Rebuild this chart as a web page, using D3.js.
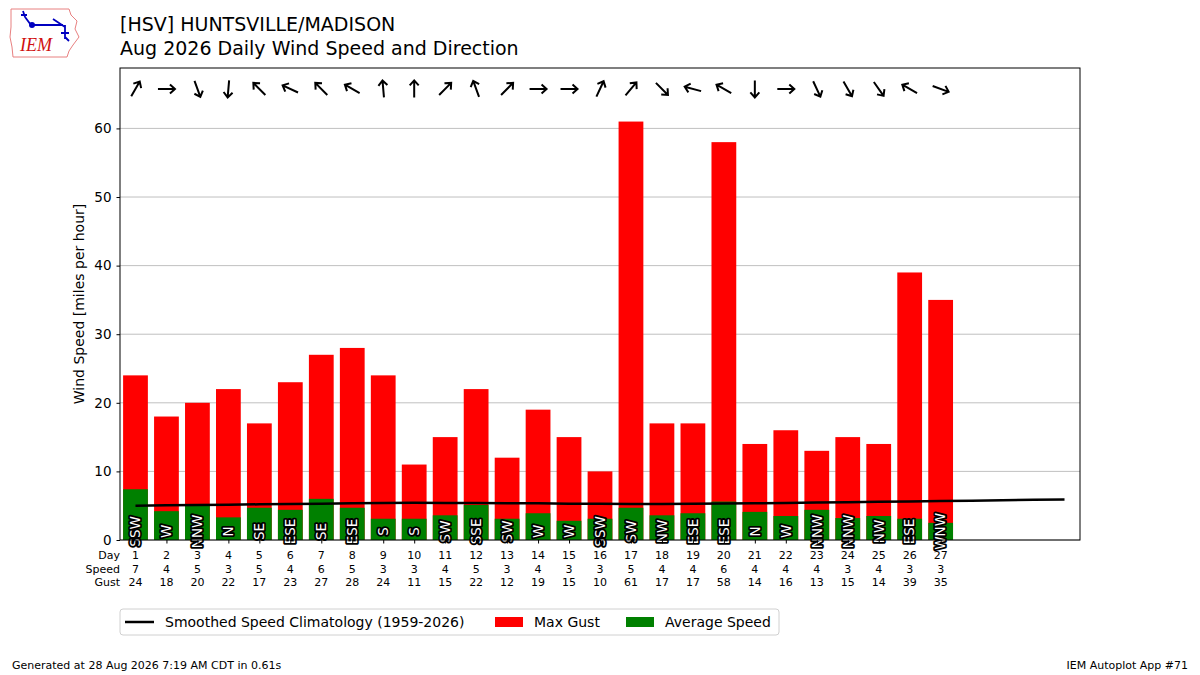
<!DOCTYPE html>
<html>
  <head>
    <meta charset="utf-8" />
    <title>HSV Daily Wind Speed and Direction</title>
    <style>
      body { margin: 0; background: #fff; }
      svg { display: block; font-family: "DejaVu Sans", sans-serif; }
      .grid line { stroke: #b0b0b0; stroke-width: 0.8; }
      .dirlabel { fill: #fff; stroke: #000; stroke-width: 3.6; stroke-linejoin: round; paint-order: stroke; font-size: 13.5px; }
    </style>
  </head>
  <body>
    <svg id="chart" width="1200" height="675"></svg>

    <script src="https://cdn.jsdelivr.net/npm/d3@7/dist/d3.min.js"></script>
    <script>
      // daily values
      var days = d3.range(1, 28);
      var avgSpeed = [7.4, 4.2, 5.0, 3.3, 4.7, 4.4, 6.0, 4.7, 3.1, 3.1, 3.6, 5.1, 3.1, 3.9,
                      2.8, 3.1, 4.7, 3.6, 3.9, 5.6, 4.1, 3.5, 4.4, 3.2, 3.5, 3.1, 2.5];
      var maxGust = [24, 18, 20, 22, 17, 23, 27, 28, 24, 11, 15, 22, 12, 19,
                     15, 10, 61, 17, 17, 58, 14, 16, 13, 15, 14, 39, 35];
      var dirText = ["SSW", "W", "NNW", "N", "SE", "ESE", "SE", "ESE", "S", "S", "SW", "SSE", "SW", "W",
                     "W", "SSW", "SW", "NW", "ESE", "ESE", "N", "W", "NNW", "NNW", "NW", "ESE", "WNW"];
      var dirDeg = [210, 270, 340, 5, 135, 115, 135, 120, 175, 180, 225, 160, 225, 270,
                    270, 205, 220, 315, 105, 120, 0, 270, 335, 330, 325, 120, 290];
      // smoothed climatology, days 1..31
      var climoDays = d3.range(1, 32);
      var climo = [5.0, 5.05, 5.1, 5.15, 5.2, 5.25, 5.3, 5.35, 5.4, 5.42, 5.4, 5.38, 5.36, 5.34,
                   5.3, 5.28, 5.25, 5.25, 5.28, 5.32, 5.36, 5.4, 5.45, 5.5, 5.56, 5.62, 5.68,
                   5.74, 5.8, 5.85, 5.9];
      var yTicks = [0, 10, 20, 30, 40, 50, 60];

      var svg = d3.select("#chart");
      var pLeft = 120, pRight = 1080, pTop = 68, pBottom = 540;

      var x = d3.scaleLinear().domain([0.5, 31.5]).range([pLeft, pRight]);
      var ymax = d3.max(maxGust) * 1.128;
      var y = d3.scaleLinear().domain([0, ymax]).range([pBottom, pTop]);

      // gridlines
      svg.append("g").attr("class", "grid")
        .selectAll("line").data(yTicks).join("line")
        .attr("x1", pLeft).attr("x2", pRight)
        .attr("y1", d => y(d)).attr("y2", d => y(d));

      var bw = x(0.8) - x(0);
      svg.append("g").selectAll("rect").data(days).join("rect")
        .attr("x", d => x(d) - bw / 2)
        .attr("width", bw)
        .attr("y", (d, i) => y(maxGust[i]))
        .attr("height", (d, i) => pBottom - y(maxGust[i]))
        .attr("fill", "#ff0000");

      svg.append("g").selectAll("rect").data(days).join("rect")
        .attr("x", d => x(d) - bw / 2)
        .attr("width", bw)
        .attr("y", (d, i) => y(avgSpeed[i]))
        .attr("height", (d, i) => pBottom - y(avgSpeed[i]))
        .attr("fill", "#008000");

      // climatology line
      var line = d3.line().x((d, i) => x(climoDays[i])).y(d => y(d));
      svg.append("path").datum(climo)
        .attr("d", line)
        .attr("fill", "none").attr("stroke", "#000").attr("stroke-width", 2.5);

      // direction labels on the bars
      svg.append("g").selectAll("text").data(days).join("text")
        .attr("class", "dirlabel")
        .attr("transform", d => "translate(" + (x(d) + 4.8) + "," + y(1.25) + ") rotate(-90)")
        .attr("text-anchor", "middle")
        .text((d, i) => dirText[i]);

      // direction arrows (pointing where the wind blows to)
      var ay = y(d3.max(maxGust) * 1.078);
      svg.append("g").selectAll("path").data(days).join("path")
        .attr("transform", (d, i) => "translate(" + x(d) + "," + ay + ") rotate(" + (dirDeg[i] + 90) + ")")
        .attr("d", "M-8.5,0L8.5,0M3.5,-4.5L8.5,0L3.5,4.5")
        .attr("fill", "none").attr("stroke", "#000").attr("stroke-width", 2);

      // frame
      svg.append("rect").attr("x", pLeft).attr("y", pTop)
        .attr("width", pRight - pLeft).attr("height", pBottom - pTop)
        .attr("fill", "none").attr("stroke", "#000").attr("stroke-width", 1);

      // y axis
      var yAxis = d3.axisLeft(y).tickValues(yTicks).tickSize(3.5).tickPadding(5);
      var gy = svg.append("g").attr("transform", "translate(" + pLeft + ",0)").call(yAxis);
      gy.select(".domain").remove();
      gy.selectAll("text").attr("font-size", 13.5).attr("font-family", "DejaVu Sans").attr("fill", "#000");

      svg.append("text")
        .attr("transform", "translate(84," + ((pTop + pBottom) / 2) + ") rotate(-90)")
        .attr("text-anchor", "middle").attr("font-size", 14)
        .text("Wind Speed [miles per hour]");

      // x axis: tick marks plus the three-row table
      var xAxis = d3.axisBottom(x).tickValues(days).tickSize(3.5).tickFormat("");
      var gx = svg.append("g").attr("transform", "translate(0," + pBottom + ")").call(xAxis);
      gx.select(".domain").remove();

      var rows = [
        { name: "Day", vals: days },
        { name: "Speed", vals: avgSpeed.map(v => Math.round(v)) },
        { name: "Gust", vals: maxGust }
      ];
      rows.forEach(function (r, k) {
        var ty = 559 + k * 13.6;
        svg.append("g").selectAll("text").data(r.vals).join("text")
          .attr("x", (d, i) => x(days[i])).attr("y", ty)
          .attr("text-anchor", "middle").attr("font-size", 11)
          .text(d => d);
        svg.append("text").attr("x", 120).attr("y", ty)
          .attr("text-anchor", "end").attr("font-size", 11).text(r.name);
      });

      // titles
      svg.append("text").attr("x", 120).attr("y", 31).attr("font-size", 19)
        .text("[HSV] HUNTSVILLE/MADISON");
      svg.append("text").attr("x", 120).attr("y", 55).attr("font-size", 19)
        .text("Aug 2026 Daily Wind Speed and Direction");

      // legend
      var lg = svg.append("g").attr("transform", "translate(120,609)");
      lg.append("rect").attr("width", 659).attr("height", 26).attr("rx", 3)
        .attr("fill", "#fff").attr("stroke", "#d0d0d0");
      lg.append("line").attr("x1", 5).attr("x2", 34).attr("y1", 13).attr("y2", 13)
        .attr("stroke", "#000").attr("stroke-width", 2.5);
      lg.append("text").attr("x", 45).attr("y", 18).attr("font-size", 14)
        .text("Smoothed Speed Climatology (1959-2026)");
      lg.append("rect").attr("x", 375).attr("y", 8).attr("width", 28).attr("height", 10).attr("fill", "#ff0000");
      lg.append("text").attr("x", 414).attr("y", 18).attr("font-size", 14).text("Max Gust");
      lg.append("rect").attr("x", 506).attr("y", 8).attr("width", 28).attr("height", 10).attr("fill", "#008000");
      lg.append("text").attr("x", 545).attr("y", 18).attr("font-size", 14).text("Average Speed");

      // footer
      svg.append("text").attr("x", 12).attr("y", 669).attr("font-size", 11)
        .text("Generated at 28 Aug 2026 7:19 AM CDT in 0.61s");
      svg.append("text").attr("x", 1188).attr("y", 669).attr("font-size", 11)
        .attr("text-anchor", "end").text("IEM Autoplot App #71");

      // IEM logo (rough sketch)
      var logo = svg.append("g").attr("transform", "translate(9,7)");
      logo.append("path")
        .attr("d", "M2,2L60,2L62,8L68,14L66,22L70,30L64,38L60,44L58,50L4,50L3,40L1,30L2,20Z")
        .attr("fill", "#fff").attr("stroke", "#e88080").attr("stroke-width", 1);
      logo.append("path")
        .attr("d", "M14,4L16,10M12,8L18,8M16,10L22,18L50,18M40,18L54,18M44,12L56,20M56,18L56,32M52,26L60,26M56,30L60,34")
        .attr("fill", "none").attr("stroke", "#0000c0").attr("stroke-width", 1.8);
      logo.append("circle").attr("cx", 23).attr("cy", 18).attr("r", 3).attr("fill", "#0000c0");
      logo.append("text").attr("x", 11).attr("y", 44).attr("font-size", 18)
        .attr("font-family", "Liberation Serif").attr("font-style", "italic")
        .attr("fill", "#d01010").text("IEM");
    </script>
  </body>
</html>
